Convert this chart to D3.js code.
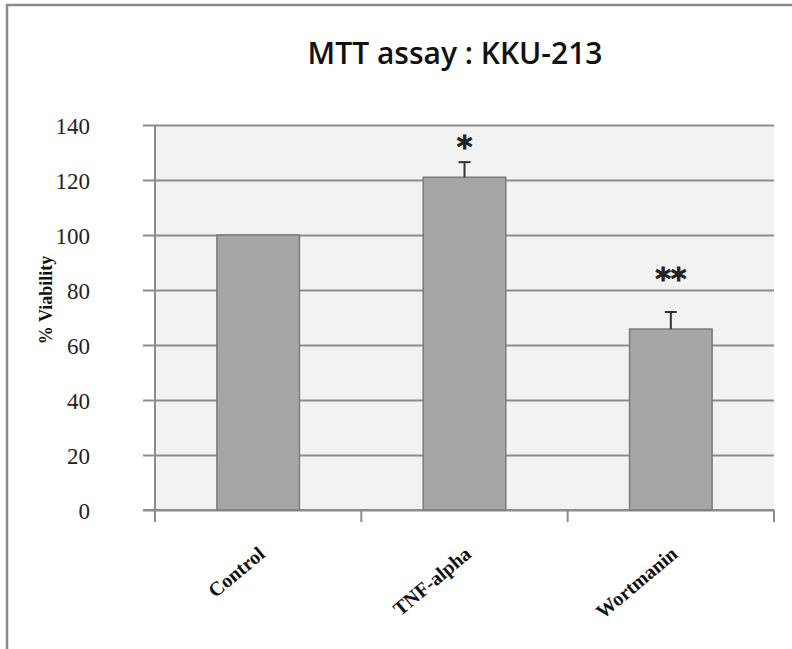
<!DOCTYPE html>
<html>
<head>
<meta charset="utf-8">
<script src="https://cdn.jsdelivr.net/npm/d3@7/dist/d3.min.js"></script>
<style>
    body { margin: 0; background: #fff; }
    svg { display: block; }
</style>
</head>
<body>
<div id="chart"></div>
<script>
// chart data
const categories = ["Control", "TNF-alpha", "Wortmanin"];
const viability = [100, 121, 65.8];
const errors = [0, 5.5, 6.2];
const stars = ["", "*", "**"];
const starLevel = [0, 128.5, 80.5];   // where the significance marks sit (y units)
const yTicks = [0, 20, 40, 60, 80, 100, 120, 140];

const width = 792, height = 649,
    margin = { top: 125, right: 18, bottom: 139, left: 155 },
    w = width - margin.left - margin.right,
    h = height - margin.top - margin.bottom;

const svg = d3.select("#chart").append("svg")
    .attr("width", width).attr("height", height);

// outer frame (top + left edges only, like the scan)
svg.append("path")
    .attr("d", "M7,649 V5 H792")
    .attr("fill", "none").attr("stroke", "#8a8a8a").attr("stroke-width", 2.5);

svg.append("text")
    .attr("x", 455).attr("y", 64)
    .attr("text-anchor", "middle")
    .style("font-family", "'Open Sans', sans-serif")
    .style("font-size", "30px").style("font-weight", "600")
    .style("fill", "#111")
    .text("MTT assay : KKU-213");

const g = svg.append("g")
    .attr("transform", "translate(" + margin.left + "," + margin.top + ")");

let x = d3.scaleBand().domain(categories).range([0, w]).paddingInner(0.6).paddingOuter(0.3),
    xb = d3.scaleBand().domain(categories).range([0, w]),
    y = d3.scaleLinear().domain([0, 140]).range([h, 0]);

g.append("rect")
    .attr("width", w).attr("height", h)
    .attr("fill", "#f2f2f2");

// gridlines with little outward ticks on the left
g.append("g")
    .attr("class", "axis axis--y")
    .call(d3.axisLeft(y).tickValues(yTicks).tickSize(-w).tickSizeOuter(0).tickPadding(65))
    .call(a => a.select(".domain").remove())
    .call(a => a.selectAll(".tick line")
        .attr("x1", -12).attr("stroke", "#8c8c8c").attr("stroke-width", 2))
    .call(a => a.selectAll(".tick text")
        .attr("dy", "0.35em")
        .style("font-family", "'Liberation Serif', serif")
        .style("font-size", "23px").style("fill", "#222"));

// y axis line
g.append("line")
    .attr("x1", 0).attr("x2", 0).attr("y1", 0).attr("y2", h + 12)
    .attr("stroke", "#8c8c8c").attr("stroke-width", 2);

// x axis
g.append("line")
    .attr("x1", -12).attr("x2", w).attr("y1", h).attr("y2", h)
    .attr("stroke", "#8c8c8c").attr("stroke-width", 2);

g.selectAll(".xtick")
    .data(categories.concat(["end"]))
    .enter().append("line")
    .attr("x1", (d, i) => i * xb.step()).attr("x2", (d, i) => i * xb.step())
    .attr("y1", h).attr("y2", h + 12)
    .attr("stroke", "#8c8c8c").attr("stroke-width", 2);

// bars
g.selectAll(".bar")
    .data(categories)
    .enter().append("rect")
    .attr("class", "bar")
    .attr("x", d => x(d))
    .attr("y", (d, i) => y(viability[i]))
    .attr("width", x.bandwidth())
    .attr("height", (d, i) => h - y(viability[i]))
    .attr("fill", "#a6a6a6").attr("stroke", "#7a7a7a").attr("stroke-width", 1.5);

// error bars
categories.forEach((c, i) => {
    if (!errors[i]) return;
    let cx = x(c) + x.bandwidth() / 2,
        top = y(viability[i] + errors[i]);
    g.append("line").attr("x1", cx).attr("x2", cx)
        .attr("y1", y(viability[i])).attr("y2", top)
        .attr("stroke", "#333").attr("stroke-width", 2);
    g.append("line").attr("x1", cx - 6).attr("x2", cx + 6)
        .attr("y1", top).attr("y2", top)
        .attr("stroke", "#333").attr("stroke-width", 2);
});

// significance stars
g.selectAll(".star")
    .data(categories)
    .enter().append("text")
    .attr("x", d => x(d) + x.bandwidth() / 2)
    .attr("y", (d, i) => y(starLevel[i]))
    .attr("text-anchor", "middle")
    .style("font-family", "'DejaVu Sans', sans-serif")
    .style("font-size", "30px").style("font-weight", "bold")
    .style("fill", "#222").style("stroke", "#222").style("stroke-width", 0.8)
    .text((d, i) => stars[i]);

// category labels, rotated
g.selectAll(".xlabel")
    .data(categories)
    .enter().append("text")
    .attr("text-anchor", "end")
    .attr("transform", d => "translate(" + (xb(d) + xb.bandwidth() / 2 + 8) + "," + (h + 46) + ") rotate(-40)")
    .style("font-family", "'Liberation Serif', serif")
    .style("font-size", "20px").style("font-weight", "bold")
    .style("fill", "#111")
    .text(d => d);

svg.append("text")
    .attr("transform", "translate(52," + 300 + ") rotate(-90)")
    .attr("text-anchor", "middle")
    .style("font-family", "'Liberation Serif', serif")
    .style("font-size", "18px").style("font-weight", "bold")
    .style("fill", "#111")
    .text("% Viability");
</script>
</body>
</html>
